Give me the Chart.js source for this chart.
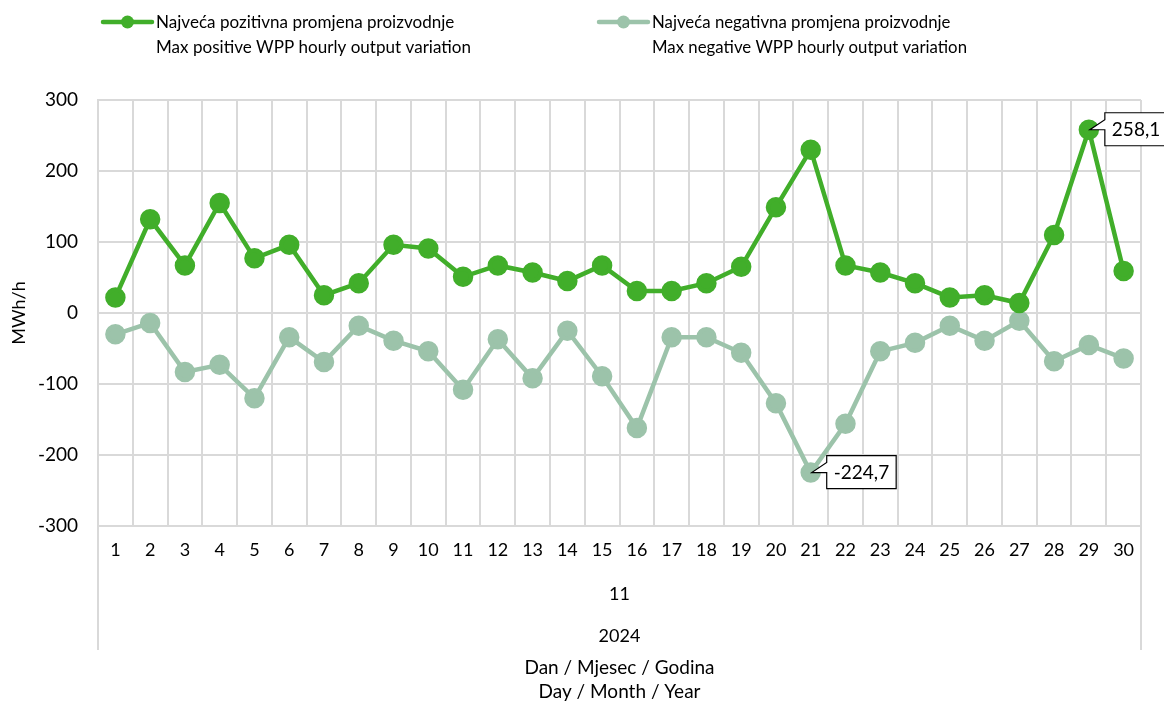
<!DOCTYPE html>
<html>
<head>
<meta charset="utf-8">
<script src="https://cdn.jsdelivr.net/npm/chart.js@4"></script>
<style>
  html, body { margin: 0; padding: 0; background: #fff; }
  #wrap { width: 1164px; height: 701px; }
</style>
</head>
<body>
<div id="wrap"><canvas id="myChart" width="1164" height="701"></canvas></div>
<script>
// data
var days = ["1","2","3","4","5","6","7","8","9","10","11","12","13","14","15",
  "16","17","18","19","20","21","22","23","24","25","26","27","28","29","30"];
var monthLabel = "11";
var yearLabel = "2024";
var positiveLabel = ["Najveća pozitivna promjena proizvodnje", "Max positive WPP hourly output variation"];
var negativeLabel = ["Najveća negativna promjena proizvodnje", "Max negative WPP hourly output variation"];
var positiveValues = [22, 132, 67, 155, 77, 96, 25, 42, 96, 91, 51, 67, 57, 45, 67,
  31, 31, 42, 65, 149, 230, 67, 57, 42, 22, 25, 14, 110, 258.1, 59];
var negativeValues = [-30, -14, -83, -73, -120, -34, -69, -18, -39, -54, -108, -37, -92, -25, -89,
  -162, -34, -34, -56, -127, -224.7, -156, -54, -42, -18, -39, -11, -68, -45, -64];
var yTicks = [300, 200, 100, 0, -100, -200, -300];
var xTitle = ["Dan / Mjesec / Godina", "Day / Month / Year"];
var yTitle = "MWh/h";
var calloutPoints = [[0, 28], [1, 20]]; // [dataset, index]

var green = "#41ae2a";
var grey = "#9cc3aa";
var gridColor = "#d9d9d9";
var fontName = "Lato, 'Open Sans', sans-serif";

var extras = {
  id: "extras",
  afterDraw: function (chart) {
    var ctx = chart.ctx;
    var area = chart.chartArea;
    ctx.save();
    // outer borders of the multi-level axis
    ctx.strokeStyle = gridColor;
    ctx.lineWidth = 2;
    ctx.beginPath();
    ctx.moveTo(area.left, area.bottom);
    ctx.lineTo(area.left, 650);
    ctx.moveTo(area.right, area.top);
    ctx.lineTo(area.right, 650);
    ctx.stroke();

    var cx = (area.left + area.right) / 2;
    ctx.fillStyle = "#000";
    ctx.textAlign = "center";
    ctx.textBaseline = "middle";
    ctx.font = "18px " + fontName;
    ctx.fillText(monthLabel, cx, 594);
    ctx.fillText(yearLabel, cx, 636);
    ctx.font = "19px " + fontName;
    ctx.fillText(xTitle[0], cx, 668);
    ctx.fillText(xTitle[1], cx, 692);

    // legend
    var items = [
      { x: 103, color: green, text: positiveLabel },
      { x: 599, color: grey, text: negativeLabel }
    ];
    ctx.font = "18px " + fontName;
    items.forEach(function (it) {
      ctx.strokeStyle = it.color;
      ctx.lineWidth = 4.5;
      ctx.lineCap = "round";
      ctx.beginPath();
      ctx.moveTo(it.x, 22);
      ctx.lineTo(it.x + 49, 22);
      ctx.stroke();
      ctx.fillStyle = it.color;
      ctx.beginPath();
      ctx.arc(it.x + 24.5, 22, 6.5, 0, Math.PI * 2);
      ctx.fill();
      ctx.fillStyle = "#000";
      ctx.textAlign = "left";
      var w = ctx.measureText(it.text[1]).width;
      var sx = 315 / w;
      ctx.save();
      ctx.translate(it.x + 53, 0);
      ctx.scale(sx, 1);
      ctx.fillText(it.text[0], 0, 22);
      ctx.fillText(it.text[1], 0, 47);
      ctx.restore();
    });

    // callouts
    calloutPoints.forEach(function (cp) {
      var ds = chart.data.datasets[cp[0]];
      var pt = chart.getDatasetMeta(cp[0]).data[cp[1]];
      var txt = ds.data[cp[1]].toFixed(1).replace(".", ",");
      ctx.font = "19px " + fontName;
      var w = ctx.measureText(txt).width + 14;
      var h = 33;
      var bx = pt.x + 16, by = pt.y - 17;
      ctx.beginPath();
      ctx.moveTo(bx, by);
      ctx.lineTo(bx + w, by);
      ctx.lineTo(bx + w, by + h);
      ctx.lineTo(bx, by + h);
      ctx.lineTo(bx, by + 17);
      ctx.lineTo(pt.x + 1, pt.y);
      ctx.lineTo(bx, by + 7);
      ctx.closePath();
      ctx.fillStyle = "#fff";
      ctx.fill();
      ctx.strokeStyle = "#000";
      ctx.lineWidth = 1.2;
      ctx.lineCap = "butt";
      ctx.stroke();
      ctx.fillStyle = "#000";
      ctx.textAlign = "left";
      ctx.fillText(txt, bx + 7, by + h / 2 + 1);
    });
    ctx.restore();
  }
};

var ctx = document.getElementById("myChart");
new Chart(ctx, {
  type: "line",
  data: {
    labels: days,
    datasets: [
      {
        label: positiveLabel.join(" "),
        data: positiveValues,
        borderColor: green,
        backgroundColor: green,
        borderWidth: 4.5,
        pointRadius: 8,
        pointHoverRadius: 8,
        tension: 0
      },
      {
        label: negativeLabel.join(" "),
        data: negativeValues,
        borderColor: grey,
        backgroundColor: grey,
        borderWidth: 4.5,
        pointRadius: 8,
        pointHoverRadius: 8,
        tension: 0
      }
    ]
  },
  options: {
    responsive: false,
    animation: false,
    devicePixelRatio: 1,
    layout: { padding: { top: 100, right: 23, left: 8, bottom: 0 } },
    plugins: {
      legend: { display: false },
      tooltip: { enabled: false }
    },
    scales: {
      x: {
        offset: true,
        grid: { offset: true, color: gridColor, lineWidth: 2, drawTicks: false },
        border: { color: gridColor, width: 2 },
        ticks: { color: "#000", font: { family: fontName, size: 18 }, padding: 13, maxRotation: 0, autoSkip: false },
        afterFit: function (scale) { scale.height = 175; }
      },
      y: {
        min: -300,
        max: 300,
        afterBuildTicks: function (scale) {
          scale.ticks = yTicks.map(function (v) { return { value: v }; });
        },
        grid: { color: gridColor, lineWidth: 2, drawTicks: false },
        border: { color: gridColor, width: 2 },
        ticks: { color: "#000", font: { family: fontName, size: 19 }, padding: 20 },
        title: { display: true, text: yTitle, color: "#000", font: { family: fontName, size: 18 }, padding: 0 },
        afterFit: function (scale) { scale.width = 90; }
      }
    }
  },
  plugins: [extras]
});
</script>
</body>
</html>
